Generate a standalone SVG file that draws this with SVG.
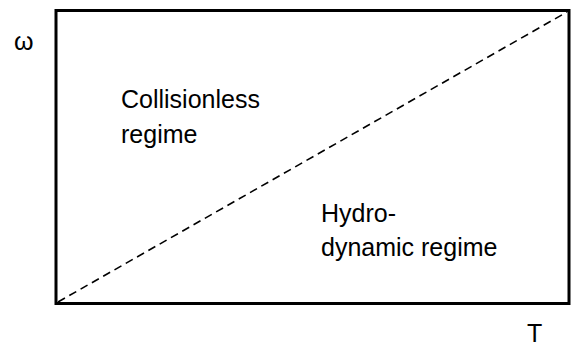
<svg xmlns="http://www.w3.org/2000/svg" width="574" height="346" viewBox="0 0 574 346">
<style>
text{font-family:"Liberation Sans","DejaVu Sans",sans-serif;fill:#000}
.lbl{font-size:25px}
.ax{font-size:25px}
</style>
<rect width="574" height="346" fill="#fff"/>
<g id="frame">
<rect x="56" y="10.5" width="513" height="293" fill="none" stroke="#000" stroke-width="3"/>
</g>
<g id="connectors">
<line x1="58" y1="302" x2="567" y2="12" stroke="#000" stroke-width="1.6" stroke-dasharray="8,5"/>
</g>
<g id="collisionless">
<text class="lbl" x="121" y="108">Collisionless</text>
<text class="lbl" x="121" y="143">regime</text>
</g>
<g id="hydrodynamic">
<text class="lbl" x="321" y="222">Hydro-</text>
<text class="lbl" x="321" y="256">dynamic regime</text>
</g>
<g id="axes">
<text class="ax" x="14" y="50">ω</text>
<text class="ax" x="527" y="342">T</text>
</g>
</svg>
